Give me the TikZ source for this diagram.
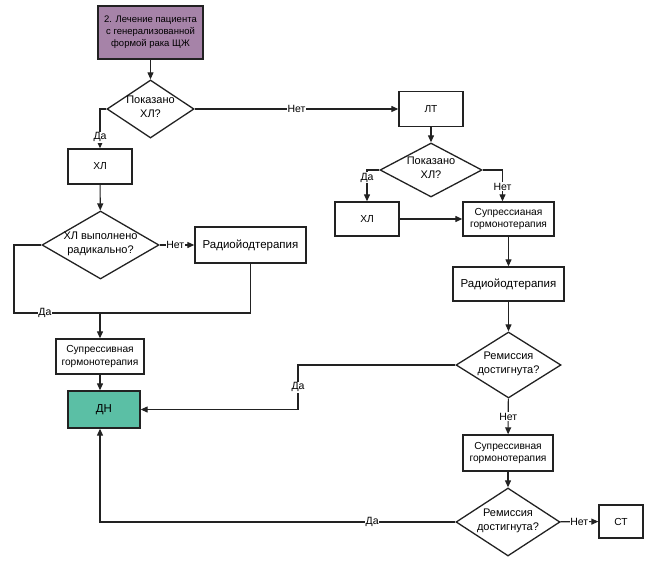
\documentclass[tikz,border=0pt]{standalone}
\usepackage{fontspec}
\setmainfont{Liberation Sans}
\usetikzlibrary{shapes.geometric,arrows.meta}
\definecolor{startfill}{HTML}{A683A8}
\definecolor{dnfill}{HTML}{5BBFA5}
\definecolor{linecol}{HTML}{222222}
\newcommand\dtext[1]{\makebox[0pt][c]{\raisebox{-0.25em}{\smash{\begin{tabular}{@{}c@{}}#1\end{tabular}}}}}
\tikzset{
  box/.style={draw=linecol, line width=1.3pt, rectangle, inner sep=0pt, align=center,
    minimum width=#1},
  dia/.style={draw=linecol, line width=1.3pt, diamond, inner sep=0pt, aspect=1},
  conn/.style={draw=linecol, line width=1.1pt, -{Triangle[length=7pt,width=6pt]}},
  plain/.style={draw=linecol, line width=1.1pt},
  lab/.style={fill=white, inner sep=0.8pt, font=\fontsize{10.5}{12}\selectfont},
  ftext/.style={font=\fontsize{10.2}{12.5}\selectfont},
  ttext/.style={font=\fontsize{9.5}{12}\selectfont},
  dtextf/.style={font=\fontsize{11}{14}\selectfont},
  btext/.style={font=\fontsize{11.5}{13}\selectfont},
}
\begin{document}
\begin{tikzpicture}[x=1pt,y=-1pt]
\useasboundingbox (0,0) rectangle (661,564);
% nodes
\node[box=105pt, minimum height=53pt, fill=startfill, ttext] (start) at (150.5,32.5)
  {2. Лечение пациента\\с генерализованной\\формой рака ЩЖ};
\node[dia, minimum width=87pt, minimum height=58pt, dtextf] (d1) at (150.5,109)
  {\dtext{Показано\\ХЛ?}};
\node[box=64pt, minimum height=35pt, ftext] (lt) at (431,109) {ЛТ};
\node[box=64pt, minimum height=35pt, ftext] (xl1) at (100,166.5) {ХЛ};
\node[dia, minimum width=102pt, minimum height=54pt, dtextf] (d2) at (431,170)
  {\dtext{Показано\\ХЛ?}};
\node[box=64pt, minimum height=34pt, ftext] (xl2) at (367,219) {ХЛ};
\node[box=91pt, minimum height=34pt, ftext] (sup2) at (508.5,219)
  {Супрессианая\\гормонотерапия};
\node[dia, minimum width=117pt, minimum height=68pt, dtextf] (d3) at (100.5,245)
  {\dtext{ХЛ выполнено\\радикально?}};
\node[box=111pt, minimum height=36pt, btext] (rad1) at (250.5,245) {Радиойодтерапия};
\node[box=111pt, minimum height=34pt, btext] (rad2) at (508.5,284) {Радиойодтерапия};
\node[box=88pt, minimum height=35pt, ftext] (sup1) at (100,356.5)
  {Супрессивная\\гормонотерапия};
\node[box=72pt, minimum height=37pt, fill=dnfill, btext] (dn) at (104,409.5) {ДН};
\node[dia, minimum width=105pt, minimum height=66pt, dtextf] (r1) at (508.5,365)
  {\dtext{Ремиссия\\достигнута?}};
\node[box=90pt, minimum height=36pt, ftext] (sup3) at (508,453)
  {Супрессивная\\гормонотерапия};
\node[dia, minimum width=104pt, minimum height=68pt, dtextf] (r2) at (508,522)
  {\dtext{Ремиссия\\достигнута?}};
\node[box=44pt, minimum height=33pt, ftext] (st) at (621,521.5) {СТ};
% helper coordinates
\coordinate (w1) at (14,313);
\coordinate (j1) at (100,313);
\coordinate (k1) at (298,409.5);
% connectors
\draw[conn] (start) -- (d1);
\draw[conn] (d1.west) -| (xl1.north) node[lab, pos=0.86] {Да};
\draw[conn] (d1.east) -- (lt.west) node[lab, pos=0.5] {Нет};
\draw[conn] (lt) -- (d2);
\draw[conn] (d2.west) -| (xl2.north) node[lab, pos=0.625] {Да};
\draw[conn] (d2.east) -| ([xshift=-6pt]sup2.north) node[lab, pos=0.77] {Нет};
\draw[conn] (xl2) -- (sup2);
\draw[conn] (sup2) -- (rad2);
\draw[conn] (rad2) -- (r1);
\draw[conn] (r1.west) -| (k1) node[lab, pos=0.75] {Да} -- (dn.east);
\draw[conn] (r1) -- (sup3) node[lab, pos=0.5] {Нет};
\draw[conn] (sup3) -- (r2);
\draw[conn] (r2) -- (st) node[lab, pos=0.5] {Нет};
\draw[conn] (r2.west) -| ([xshift=-4pt]dn.south) node[lab, pos=0.117] {Да};
\draw[conn] (xl1) -- (d3);
\draw[conn] (d3.east) -- (rad1.west) node[lab, pos=0.45] {Нет};
\draw[plain] (d3.west) -| (w1) -- (j1) node[lab, pos=0.36] {Да};
\draw[plain] (rad1.south) |- (j1);
\draw[conn] (j1) -- (sup1.north);
\draw[conn] (sup1.south) -- ([xshift=-4pt]dn.north);
\end{tikzpicture}
\end{document}
